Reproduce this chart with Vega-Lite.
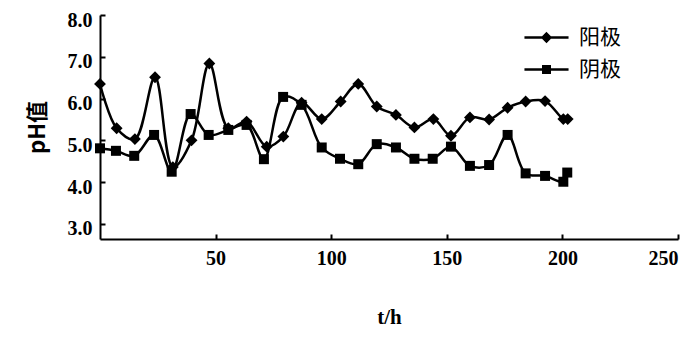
{
  "$schema": "https://vega.github.io/schema/vega-lite/v6.json",
  "width": 578,
  "height": 224,
  "autosize": {"type": "none"},
  "padding": {"left": 100, "top": 15, "right": 22, "bottom": 121},
  "background": "white",
  "config": {
    "view": {"stroke": null},
    "axis": {"grid": false, "domainColor": "black", "domainWidth": 2, "tickColor": "black", "tickWidth": 2, "labelColor": "black", "titleColor": "black", "labelFont": "Liberation Serif", "labelFontWeight": "bold", "labelFontSize": 20, "titleFont": "Liberation Serif", "titleFontWeight": "bold", "titleFontSize": 21}
  },
  "data": {"values": [
    {"t": 0, "pH": 6.35, "s": "阳极"},
    {"t": 7.2, "pH": 5.29, "s": "阳极"},
    {"t": 15.1, "pH": 5.03, "s": "阳极"},
    {"t": 23.8, "pH": 6.51, "s": "阳极"},
    {"t": 31.5, "pH": 4.36, "s": "阳极"},
    {"t": 39.6, "pH": 5.0, "s": "阳极"},
    {"t": 47.3, "pH": 6.84, "s": "阳极"},
    {"t": 55.5, "pH": 5.29, "s": "阳极"},
    {"t": 63.4, "pH": 5.45, "s": "阳极"},
    {"t": 72.1, "pH": 4.85, "s": "阳极"},
    {"t": 79.3, "pH": 5.09, "s": "阳极"},
    {"t": 87.2, "pH": 5.9, "s": "阳极"},
    {"t": 95.9, "pH": 5.51, "s": "阳极"},
    {"t": 104.1, "pH": 5.93, "s": "阳极"},
    {"t": 111.7, "pH": 6.35, "s": "阳极"},
    {"t": 119.7, "pH": 5.81, "s": "阳极"},
    {"t": 128, "pH": 5.61, "s": "阳极"},
    {"t": 136, "pH": 5.31, "s": "阳极"},
    {"t": 144.2, "pH": 5.51, "s": "阳极"},
    {"t": 151.8, "pH": 5.11, "s": "阳极"},
    {"t": 160, "pH": 5.55, "s": "阳极"},
    {"t": 168.3, "pH": 5.5, "s": "阳极"},
    {"t": 176.3, "pH": 5.78, "s": "阳极"},
    {"t": 184.1, "pH": 5.93, "s": "阳极"},
    {"t": 192.5, "pH": 5.94, "s": "阳极"},
    {"t": 200.4, "pH": 5.51, "s": "阳极"},
    {"t": 202.3, "pH": 5.51, "s": "阳极"},
    {"t": 0, "pH": 4.81, "s": "阴极"},
    {"t": 6.9, "pH": 4.75, "s": "阴极"},
    {"t": 14.8, "pH": 4.63, "s": "阴极"},
    {"t": 23.4, "pH": 5.13, "s": "阴极"},
    {"t": 31, "pH": 4.25, "s": "阴极"},
    {"t": 39.2, "pH": 5.63, "s": "阴极"},
    {"t": 47, "pH": 5.13, "s": "阴极"},
    {"t": 55.5, "pH": 5.25, "s": "阴极"},
    {"t": 63.4, "pH": 5.37, "s": "阴极"},
    {"t": 70.9, "pH": 4.55, "s": "阴极"},
    {"t": 79.2, "pH": 6.04, "s": "阴极"},
    {"t": 87.2, "pH": 5.85, "s": "阴极"},
    {"t": 95.9, "pH": 4.83, "s": "阴极"},
    {"t": 103.8, "pH": 4.56, "s": "阴极"},
    {"t": 111.7, "pH": 4.43, "s": "阴极"},
    {"t": 119.7, "pH": 4.91, "s": "阴极"},
    {"t": 128, "pH": 4.83, "s": "阴极"},
    {"t": 136, "pH": 4.56, "s": "阴极"},
    {"t": 143.9, "pH": 4.56, "s": "阴极"},
    {"t": 151.8, "pH": 4.85, "s": "阴极"},
    {"t": 160, "pH": 4.39, "s": "阴极"},
    {"t": 168.3, "pH": 4.41, "s": "阴极"},
    {"t": 176.3, "pH": 5.13, "s": "阴极"},
    {"t": 184.1, "pH": 4.21, "s": "阴极"},
    {"t": 192.5, "pH": 4.15, "s": "阴极"},
    {"t": 200.4, "pH": 4.01, "s": "阴极"},
    {"t": 202.1, "pH": 4.23, "s": "阴极"}
  ]},
  "encoding": {
    "x": {"field": "t", "type": "quantitative", "scale": {"domain": [0, 250], "nice": false, "zero": false},
      "axis": {"values": [50, 100, 150, 200, 250], "tickSize": -5, "labelPadding": 14, "title": "t/h", "titlePadding": 38}},
    "y": {"field": "pH", "type": "quantitative", "scale": {"domain": [2.64, 8], "nice": false, "zero": false},
      "axis": {"values": [3, 4, 5, 6, 7, 8], "format": ".1f", "tickSize": -5, "labelPadding": 13, "labelOffset": 5, "title": "pH值", "titleFont": "Noto Sans CJK SC", "titleFontWeight": "bold", "titleFontSize": 22, "titlePadding": 18}}
  },
  "layer": [
    {
      "mark": {"type": "line", "interpolate": "catmull-rom", "strokeWidth": 2.5},
      "encoding": {
        "color": {"field": "s", "type": "nominal", "sort": ["阳极", "阴极"], "scale": {"range": ["black", "black"]},
          "legend": {"title": null, "orient": "none", "legendX": 428, "legendY": 4, "labelFont": "Noto Sans CJK SC", "labelFontSize": 21, "labelColor": "black", "labelOffset": 14, "rowPadding": 3, "symbolSize": 1150, "symbolStrokeWidth": 2.5,
            "encode": {"symbols": {"update": {"shape": {"signal": "datum.value == '阳极' ? 'M-1.3,0H1.3M0,-0.23L0.23,0L0,0.23L-0.23,0Z' : 'M-1.3,0H1.3M-0.19,-0.19H0.19V0.19H-0.19Z'"}, "fill": {"value": "black"}, "stroke": {"value": "black"}}}}}
        }
      }
    },
    {
      "mark": {"type": "point", "filled": true, "opacity": 1, "color": "black"},
      "encoding": {
        "shape": {"field": "s", "type": "nominal", "sort": ["阳极", "阴极"], "scale": {"range": ["diamond", "square"]}, "legend": null},
        "size": {"field": "s", "type": "nominal", "scale": {"range": [140, 100]}, "legend": null}
      }
    }
  ]
}
